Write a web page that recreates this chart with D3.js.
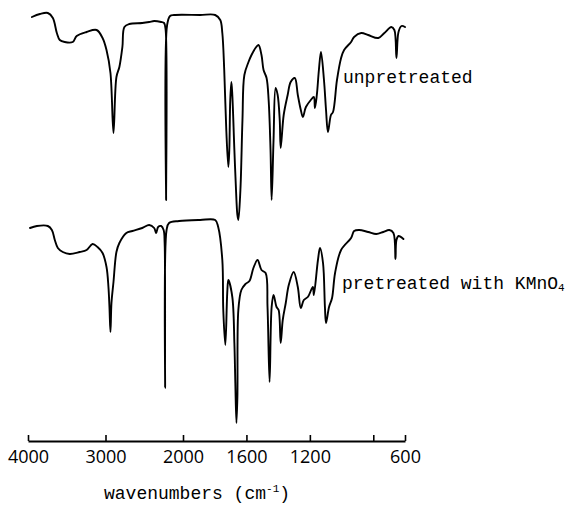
<!DOCTYPE html>
<html><head><meta charset="utf-8">
<script src="https://cdn.jsdelivr.net/npm/d3@7"></script>
<style>body{margin:0;background:#fff}</style>
</head><body><svg id="c" width="575" height="506"></svg>
<script>
// [wavenumber (cm-1), transmittance (arbitrary units)]
const unpretreated = [[3949,106.5],[3846,108],[3744,108.5],[3679,106],[3628,98.5],[3590,95],[3526,94],[3423,94],[3372,97],[3244,99],[3115,100],[3038,96],[2987,90],[2936,78.5],[2897,48.5],[2859,76.5],[2821,81.5],[2782,91.5],[2756,101.5],[2692,103],[2526,103.5],[2436,104],[2372,104.5],[2282,104],[2244,103.5],[2224,100],[2218,15],[2205,102.5],[2167,107],[2115,107.5],[1892,107.5],[1797,107.5],[1765,105],[1752,98.5],[1740,80],[1727,50],[1714,31.5],[1708,40],[1702,65],[1695,74],[1689,67.5],[1676,40],[1663,15],[1657,7.5],[1651,5],[1638,20],[1625,55],[1613,77.5],[1587,84],[1568,87.5],[1543,91],[1524,92.5],[1505,87.5],[1492,80],[1473,76],[1460,65],[1448,40],[1441,15],[1429,45],[1416,71],[1403,67.5],[1390,55],[1384,41],[1365,57.5],[1340,67.5],[1321,74],[1295,76],[1276,67.5],[1257,60],[1244,56.5],[1225,61.5],[1194,65],[1175,66.5],[1168,61],[1156,67.5],[1143,80],[1130,89],[1111,75],[1098,60],[1086,49],[1067,57.5],[1054,59],[1029,75],[1003,86],[984,90],[940,94],[921,96.5],[876,98.5],[832,97.5],[768,96],[730,98.5],[686,101.5],[667,100],[654,86],[641,99],[622,102],[600,101.5]];

const pretreated = [[3974,103.5],[3885,104.5],[3744,104.5],[3692,102.5],[3654,97.5],[3615,93.5],[3551,91.5],[3462,90.5],[3333,91.5],[3244,92.5],[3167,95.5],[3103,94],[3038,91],[2987,84],[2962,74],[2949,64],[2936,51.5],[2923,66],[2897,76.5],[2859,91.5],[2821,96],[2731,101],[2654,102],[2526,103.5],[2436,105],[2372,103.5],[2346,101],[2321,104],[2282,104.5],[2250,102.5],[2237,96],[2231,23.5],[2212,102.5],[2180,106],[2051,107],[1892,107.5],[1797,107.5],[1778,104],[1752,87.5],[1746,62.5],[1733,45],[1721,71],[1714,77.5],[1689,69],[1676,46],[1670,26],[1663,6],[1657,19],[1651,62.5],[1632,72.5],[1606,75.5],[1581,77],[1556,83.5],[1530,87.5],[1505,82.5],[1479,81],[1467,64],[1454,26.5],[1441,64],[1429,70],[1410,64],[1397,62.5],[1384,46],[1371,57.5],[1352,66],[1333,75],[1302,81.5],[1276,74],[1257,63.5],[1238,67.5],[1213,69],[1181,74],[1175,70],[1149,87.5],[1136,93.5],[1117,86],[1105,64],[1098,56],[1079,64],[1060,68.5],[1041,81],[1003,92.5],[940,98.5],[921,102],[889,102.5],[832,101.5],[781,100.5],[737,101.5],[699,102.5],[673,101],[660,88],[654,97.5],[641,99.5],[610,98]];

const tickValues = [4000, 3000, 2000, 1600, 1200, 800, 600];
const tickLabels = ["4000", "3000", "2000", "1600", "1200", "", "600"];
const seriesLabels = ["unpretreated", "pretreated with KMnO"];
const seriesLabelSub = ["", "4"];
const axisTitle = "wavenumbers (cm";
const axisTitleSup = "-1";

const svg = d3.select("#c");
// IR scale: expansion by 2x below 2000 cm-1
const x = d3.scaleLinear().domain([4000, 2000, 600]).range([28, 183, 405]);
const yTop = d3.scaleLinear().domain([0, 110]).range([230, 10]);
const yBot = d3.scaleLinear().domain([0, 110]).range([435, 215]);

const mkLine = y => d3.line().x(d => x(d[0])).y(d => y(d[1])).curve(d3.curveCatmullRom.alpha(0.5));

svg.append("path").datum(unpretreated).attr("d", mkLine(yTop))
  .attr("fill", "none").attr("stroke", "#000").attr("stroke-width", 1.9)
  .attr("stroke-linejoin", "round").attr("stroke-linecap", "round");
svg.append("path").datum(pretreated).attr("d", mkLine(yBot))
  .attr("fill", "none").attr("stroke", "#000").attr("stroke-width", 1.9)
  .attr("stroke-linejoin", "round").attr("stroke-linecap", "round");

const axis = d3.axisBottom(x).tickValues(tickValues)
  .tickFormat((d, i) => tickLabels[i]).tickSizeInner(-6).tickSizeOuter(0).tickPadding(9);
const g = svg.append("g").attr("transform", "translate(0,441)").call(axis);
g.attr("font-family", "'Open Sans', sans-serif").attr("font-size", 18).attr("color", "#000");
g.select(".domain").attr("stroke-width", 2);
g.selectAll(".tick line").attr("stroke-width", 1.6);

const mono = "'Liberation Mono', 'Courier New', monospace";
svg.append("text").attr("x", 343).attr("y", 83).attr("font-family", mono)
  .attr("font-size", 18).text(seriesLabels[0]);
const t2 = svg.append("text").attr("x", 342).attr("y", 289).attr("font-family", mono)
  .attr("font-size", 18).text(seriesLabels[1]);
t2.append("tspan").attr("font-size", 11).attr("dy", 2).text(seriesLabelSub[1]);

const at = svg.append("text").attr("x", 104).attr("y", 499).attr("font-family", mono)
  .attr("font-size", 18).text(axisTitle);
at.append("tspan").attr("font-size", 11).attr("dy", -7).text(axisTitleSup);
at.append("tspan").attr("dy", 7).text(")");
</script>
</body></html>
